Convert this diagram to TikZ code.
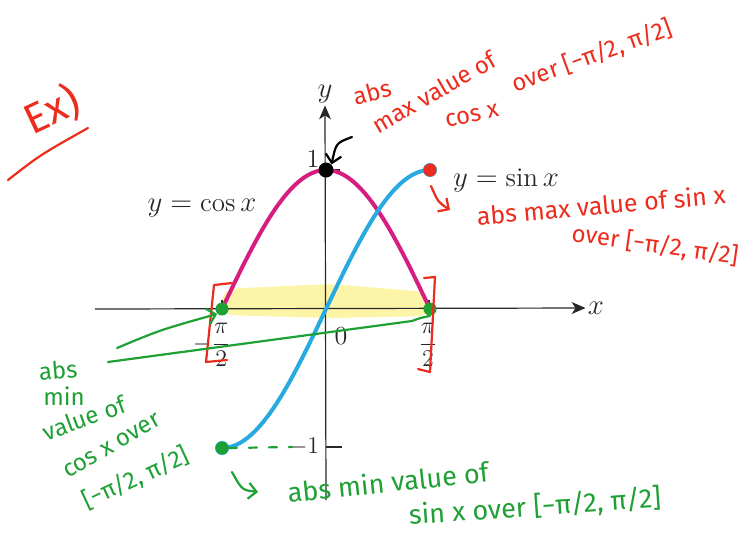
\documentclass[tikz,border=0pt]{standalone}
\usepackage{fontspec}
\newfontfamily\handfont{Fira Sans}
\usepackage{amsmath}
\usepackage{xcolor}
\definecolor{inkred}{RGB}{236,44,28}
\definecolor{inkgreen}{RGB}{30,160,52}
\definecolor{cosmag}{RGB}{214,30,128}
\definecolor{sincyan}{RGB}{40,170,225}
\definecolor{hilite}{RGB}{250,238,110}
\definecolor{axisgray}{RGB}{40,40,40}
\usepackage{tikz}
\usetikzlibrary{arrows.meta,positioning}
\tikzset{
  axisline/.style={draw=axisgray, line width=0.6pt},
  ticklabel/.style={font=\fontsize{13}{15}\selectfont, text=axisgray, inner sep=1pt},
  curvelbl/.style={font=\fontsize{13.5}{15}\selectfont, text=axisgray},
  pen/.style={line width=1.1pt, line cap=round, line join=round},
  redpen/.style={pen, draw=inkred},
  greenpen/.style={pen, draw=inkgreen},
  rednote/.style={font=\handfont\fontsize{12}{13}\selectfont, text=inkred, inner sep=0pt},
  greennote/.style={font=\handfont\fontsize{12}{13}\selectfont, text=inkgreen, inner sep=0pt},
  dot/.style={circle, inner sep=0pt, minimum size=6.5pt},
}

\begin{document}
\begin{tikzpicture}[x=0.5pt, y=-0.5pt]
\useasboundingbox (0,0) rectangle (755,532);
\fill[hilite, opacity=0.6, rounded corners=6pt]
  (222,289) -- (330,284) -- (428,292) -- (430,316) -- (330,318) -- (222,315) -- cycle;

\coordinate (xstart) at (95,309);
\coordinate (ystart) at (326,500);
\node[ticklabel, font=\fontsize{15}{17}\selectfont] (xlab) at (596,308) {$x$};
\node[ticklabel, font=\fontsize{15}{17}\selectfont] (ylab) at (325,94) {$y$};
\draw[axisline, -{Stealth[length=7pt,width=6pt,inset=2pt]}] (xstart) -- (xlab.west);
\draw[axisline, -{Stealth[length=7pt,width=6pt,inset=2pt]}] (ystart) -- (ylab.south);
\draw[axisline] (326,170) -- (340,170);
\draw[axisline] (326,447) -- (342,447);
\draw[axisline] (222,309) -- (222,300);
\draw[axisline] (429,309) -- (429,300);

\node[ticklabel] (one) at (313,159) {1};
\node[ticklabel] (mone) at (304,447) {$-1$};
\node[ticklabel] (zero) at (341,336) {0};
\node[ticklabel] (mhalfpi) at (212,345) {$-\dfrac{\pi}{2}$};
\node[ticklabel] (halfpi) at (428,345) {$\dfrac{\pi}{2}$};
\node[curvelbl] (coslbl) at (202,208) {$y = \cos x$};
\node[curvelbl] (sinlbl) at (506,180) {$y = \sin x$};

\begin{scope}[shift={(326,309)}, x=33.1pt, y=69.5pt]
\draw[cosmag, line width=2pt] plot[domain=-pi/2:pi/2, samples=80, smooth] (\x, {cos(\x r)});
\draw[sincyan, line width=2pt] plot[domain=-pi/2:pi/2, samples=80, smooth] (\x, {sin(\x r)});
\node[dot, fill=sincyan, minimum size=7pt] at (pi/2,1) {};
\node[dot, fill=sincyan, minimum size=7pt] at (-pi/2,-1) {};
\node[dot, fill=black, minimum size=7.5pt] (cosmax) at (0,1) {};
\node[dot, fill=inkred] (sinmax) at (pi/2,1) {};
\node[dot, fill=inkgreen] (cosminl) at (-pi/2,0) {};
\node[dot, fill=inkgreen] (cosminr) at (pi/2,0) {};
\node[dot, fill=inkgreen] (sinmin) at (-pi/2,-1) {};
\end{scope}

\node[rednote, font=\handfont\fontsize{21}{22}\selectfont, rotate=25] (ex) at (52,110) {Ex)};
\coordinate (exa) at (8,180);
\coordinate (exb) at (88,128);
\draw[redpen] (exa) .. controls (40,155) .. (exb);

\node[rednote, rotate=15] (cosabs) at (372,92) {abs};
\node[rednote, rotate=30] (cosmaxv) at (434,92) {max value of};
\node[rednote, rotate=12] (coscos) at (472,116) {cos x};
\node[rednote, rotate=20] (cosover) at (592,56) {over [−π/2, π/2]};
\coordinate (blkstart) at (352,137);
\draw[pen, draw=black, -{Straight Barb[length=4pt]}] (blkstart) .. controls (336,143) .. (cosmax.north east);

\node[rednote, font=\handfont\fontsize{12.5}{13}\selectfont, rotate=5] (sinabs) at (601,205) {abs max value of sin x};
\node[rednote, rotate=-8] (sinover) at (655,245) {over [−π/2, π/2]};
\coordinate (redstart) at (431,186);
\coordinate (redend) at (450,210);
\draw[redpen, -{Straight Barb[length=4pt]}] (redstart) .. controls (438,202) .. (redend);

\draw[redpen] (232,283) -- (214,285) -- (206,362) -- (227,360);
\draw[redpen] (424,278) -- (435,277) -- (430,372) -- (418,369);

\node[greennote, rotate=5] (minabs) at (58,370) {abs};
\node[greennote] (minmin) at (64,396) {min};
\node[greennote, rotate=20] (minval) at (84,418) {value of};
\node[greennote, rotate=30] (mincos) at (112,446) {cos x over};
\node[greennote, rotate=25] (minint) at (136,478) {[−π/2, π/2]};
\coordinate (garrA) at (117,348);
\draw[greenpen, -{Straight Barb[length=4pt]}] (garrA) .. controls (160,330) .. (cosminl.south west);
\coordinate (glineA) at (108,362);
\draw[greenpen] (glineA) -- (412,321) .. controls (420,318) .. (cosminr.south);

\coordinate (dotsend) at (292,447);
\draw[greenpen, dash pattern=on 4pt off 6pt] (sinmin.east) -- (dotsend);
\coordinate (garrB) at (232,472);
\coordinate (garrBend) at (258,492);
\draw[greenpen, -{Straight Barb[length=4pt]}] (garrB) .. controls (242,490) .. (garrBend);
\node[greennote, font=\handfont\fontsize{13.5}{14}\selectfont, rotate=6] (sinminv) at (388,482) {abs min value of};
\node[greennote, font=\handfont\fontsize{13.5}{14}\selectfont, rotate=4] (sinminover) at (535,507) {sin x over [−π/2, π/2]};
\end{tikzpicture}
\end{document}
